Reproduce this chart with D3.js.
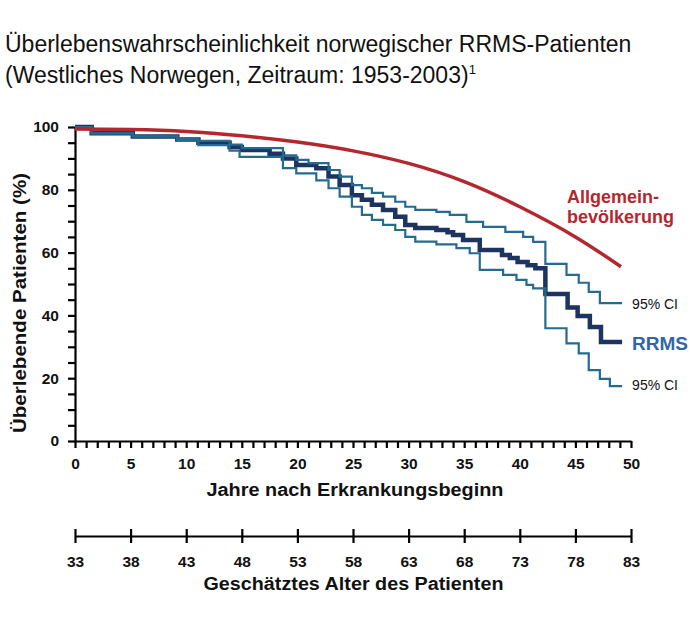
<!DOCTYPE html>
<html lang="de">
<head>
<meta charset="utf-8">
<script src="https://cdn.jsdelivr.net/npm/d3@7"></script>
<style>
    body { margin: 0; background: #fff; }
    svg text { font-family: "Liberation Sans", Arial, Helvetica, sans-serif; }
</style>
</head>
<body>
<div id="chart"></div>
<script>

// title lines
const titleLine1 = "Überlebenswahrscheinlichkeit norwegischer RRMS-Patienten";
const titleLine2 = "(Westliches Norwegen, Zeitraum: 1953-2003)";

// tick labels
const yearLabels = [0, 5, 10, 15, 20, 25, 30, 35, 40, 45, 50];
const percentLabels = [0, 20, 40, 60, 80, 100];
const ageLabels = [33, 38, 43, 48, 53, 58, 63, 68, 73, 78, 83];

// Kaplan-Meier steps [year, % surviving]
const rrmsSteps = [
    [0, 100], [1.5, 98], [5.2, 97], [9.2, 96], [11.1, 95], [13.9, 93.6], [15.0, 92.7],
    [17.5, 91.5], [18.7, 90], [19.9, 87.9], [21.7, 86.9], [22.8, 84.2], [23.8, 81.5],
    [24.9, 78.3], [25.8, 76.8], [26.7, 75.2], [27.7, 73.6], [28.8, 71.4], [29.7, 68.8],
    [30.6, 67.8], [32.5, 67.2], [33.5, 66.5], [34.0, 65.6], [34.9, 64], [36.4, 60.8],
    [38.4, 59.2], [39.1, 58.3], [39.8, 57], [40.7, 56], [41.4, 55], [42.3, 46.8],
    [44.3, 42.5], [45.2, 39.8], [46.3, 36.3], [47.3, 31.5], [49.2, 31.5]
];

const upperCiSteps = [
    [0, 100], [1.5, 98], [5.2, 97], [9.2, 96.3], [11.1, 95.6], [13.9, 94.4], [15.0, 93.3],
    [18.7, 91], [19.9, 89.5], [21.0, 88.5], [22.8, 86.3], [23.8, 84.2], [24.9, 81.5],
    [25.8, 80.5], [26.7, 79], [27.7, 77.8], [28.8, 76.2], [29.7, 74.6], [30.6, 73.6],
    [32.5, 73], [33.7, 72], [35.2, 69.8], [36.7, 68.2], [38.7, 66.6], [40.3, 65],
    [41.2, 63.4], [42.3, 56.4], [44.2, 52.9], [45.3, 50.4], [46.2, 47.5], [47.2, 43.9],
    [49.2, 43.9]
];

const lowerCiSteps = [
    [0, 100], [1.5, 98], [5.2, 97], [9.2, 95.8], [11.1, 94.2], [13.9, 92.5], [14.8, 90.5],
    [18.7, 86.9], [19.9, 85.2], [21.7, 83], [22.8, 80.5], [23.8, 77.8], [24.9, 74.6],
    [25.8, 72], [26.7, 70.4], [27.7, 68.8], [28.8, 67.2], [29.7, 65], [30.6, 63.5],
    [32.5, 62.6], [34.3, 61.4], [35.5, 59.8], [36.4, 54.5], [38.5, 52.9], [39.7, 51.3],
    [40.6, 49.7], [41.2, 48.6], [42.3, 35.9], [44.2, 31.1], [45.3, 27.9], [46.2, 22.6],
    [47.2, 19.8], [48.1, 17.5], [49.2, 17.5]
];

// general population curve (smooth)
const populationCurve = [
    [0, 99.4], [5, 99.2], [10, 98.6], [15, 97.2], [20, 95.2], [25, 92.4], [30, 88.4],
    [35, 82.6], [40, 74.6], [45, 65.0], [49.1, 55.5]
];


class SurvivalChart {

    constructor(parentElement) {
        this.parentElement = parentElement;
        this.colors = {
            population: "#b3282e",
            rrms: "#1d3360",
            ci: "#256a90",
            rrmsLabel: "#2f66a7"
        };
        this.initVis();
    }

    initVis() {
        let vis = this;

        vis.margin = { top: 127, right: 59, bottom: 178, left: 75 };
        vis.width = 690 - vis.margin.left - vis.margin.right;
        vis.height = 619 - vis.margin.top - vis.margin.bottom;

        vis.root = d3.select("#" + vis.parentElement).append("svg")
            .attr("width", 690)
            .attr("height", 619);

        // title
        vis.root.append("text")
            .attr("x", 5)
            .attr("y", 52)
            .style("font-size", "23px")
            .style("fill", "#111")
            .text(titleLine1);

        let t2 = vis.root.append("text")
            .attr("x", 5)
            .attr("y", 83)
            .style("font-size", "23px")
            .style("fill", "#111")
            .text(titleLine2);
        t2.append("tspan")
            .attr("dy", -9)
            .style("font-size", "13px")
            .text("1");

        vis.svg = vis.root.append("g")
            .attr("transform", "translate(" + vis.margin.left + "," + vis.margin.top + ")");

        // scales
        vis.x = d3.scaleLinear().domain([0, 50]).range([0, vis.width]);
        vis.y = d3.scaleLinear().domain([0, 100]).range([vis.height, 0]);
        vis.age = d3.scaleLinear().domain([33, 83]).range([0, vis.width]);

        // axes
        vis.yAxis = d3.axisLeft(vis.y)
            .tickValues(d3.range(0, 101, 5))
            .tickSize(7)
            .tickSizeOuter(0)
            .tickPadding(9)
            .tickFormat(d => percentLabels.includes(d) ? d : "");

        vis.xAxis = d3.axisBottom(vis.x)
            .tickValues(d3.range(0, 51, 1))
            .tickSize(7)
            .tickSizeOuter(0)
            .tickPadding(10)
            .tickFormat(d => yearLabels.includes(d) ? d : "");

        vis.ageAxis = d3.axisBottom(vis.age)
            .tickValues(ageLabels)
            .tickSize(7)
            .tickSizeOuter(0)
            .tickPadding(13);

        vis.svg.append("g")
            .attr("class", "y-axis axis")
            .call(vis.yAxis);

        vis.svg.append("g")
            .attr("class", "x-axis axis")
            .attr("transform", "translate(0," + vis.height + ")")
            .call(vis.xAxis);

        let ageG = vis.svg.append("g")
            .attr("class", "age-axis axis")
            .attr("transform", "translate(0," + (536 - vis.margin.top) + ")")
            .call(vis.ageAxis);
        ageG.selectAll(".tick line").attr("y1", -7);

        vis.svg.selectAll(".axis path, .axis line")
            .attr("stroke", "#000")
            .attr("stroke-width", 2.2);
        vis.svg.selectAll(".axis text")
            .attr("fill", "#111")
            .style("font-size", "15.5px")
            .style("font-weight", "bold");

        // axis titles
        vis.svg.append("text")
            .attr("x", (206.5 + 503.5) / 2 - vis.margin.left)
            .attr("y", 496 - vis.margin.top)
            .attr("text-anchor", "middle")
            .attr("textLength", 297)
            .attr("lengthAdjust", "spacingAndGlyphs")
            .style("font-size", "18px")
            .style("font-weight", "bold")
            .style("fill", "#111")
            .text("Jahre nach Erkrankungsbeginn");

        vis.svg.append("text")
            .attr("x", (203.5 + 503.5) / 2 - vis.margin.left)
            .attr("y", 590 - vis.margin.top)
            .attr("text-anchor", "middle")
            .attr("textLength", 300)
            .attr("lengthAdjust", "spacingAndGlyphs")
            .style("font-size", "18px")
            .style("font-weight", "bold")
            .style("fill", "#111")
            .text("Geschätztes Alter des Patienten");

        vis.svg.append("text")
            .attr("transform", "rotate(-90)")
            .attr("x", -(303 - vis.margin.top))
            .attr("y", 26 - vis.margin.left)
            .attr("text-anchor", "middle")
            .attr("textLength", 260)
            .attr("lengthAdjust", "spacingAndGlyphs")
            .style("font-size", "18px")
            .style("font-weight", "bold")
            .style("fill", "#111")
            .text("Überlebende Patienten (%)");

        // lines
        vis.stepLine = d3.line()
            .curve(d3.curveStepAfter)
            .x(d => vis.x(d[0]))
            .y(d => vis.y(d[1]));

        vis.smoothLine = d3.line()
            .curve(d3.curveNatural)
            .x(d => vis.x(d[0]))
            .y(d => vis.y(d[1]));

        vis.svg.append("path")
            .datum(rrmsSteps)
            .attr("fill", "none")
            .attr("stroke", vis.colors.rrms)
            .attr("stroke-width", 4.5)
            .attr("d", vis.stepLine);

        [upperCiSteps, lowerCiSteps].forEach(steps => {
            vis.svg.append("path")
                .datum(steps)
                .attr("fill", "none")
                .attr("stroke", vis.colors.ci)
                .attr("stroke-width", 2.2)
                .attr("d", vis.stepLine);
        });

        vis.svg.append("path")
            .datum(populationCurve)
            .attr("fill", "none")
            .attr("stroke", vis.colors.population)
            .attr("stroke-width", 3.5)
            .attr("d", vis.smoothLine);

        // line labels
        let labelX = vis.x(49.2) + 10;

        vis.svg.append("text")
            .attr("x", 567 - vis.margin.left)
            .attr("y", 203 - vis.margin.top)
            .style("font-size", "18px")
            .style("font-weight", "bold")
            .style("fill", vis.colors.population)
            .text("Allgemein-");

        vis.svg.append("text")
            .attr("x", 567 - vis.margin.left)
            .attr("y", 222.5 - vis.margin.top)
            .style("font-size", "18px")
            .style("font-weight", "bold")
            .style("fill", vis.colors.population)
            .text("bevölkerung");

        vis.svg.append("text")
            .attr("x", labelX)
            .attr("y", vis.y(upperCiSteps[upperCiSteps.length - 1][1]) + 6)
            .style("font-size", "14px")
            .style("fill", "#111")
            .text("95% CI");

        vis.svg.append("text")
            .attr("x", labelX)
            .attr("y", vis.y(rrmsSteps[rrmsSteps.length - 1][1]) + 8)
            .style("font-size", "19px")
            .style("font-weight", "bold")
            .style("fill", vis.colors.rrmsLabel)
            .text("RRMS");

        vis.svg.append("text")
            .attr("x", labelX)
            .attr("y", vis.y(lowerCiSteps[lowerCiSteps.length - 1][1]) + 4)
            .style("font-size", "14px")
            .style("fill", "#111")
            .text("95% CI");
    }
}

new SurvivalChart("chart");

</script>
</body>
</html>
